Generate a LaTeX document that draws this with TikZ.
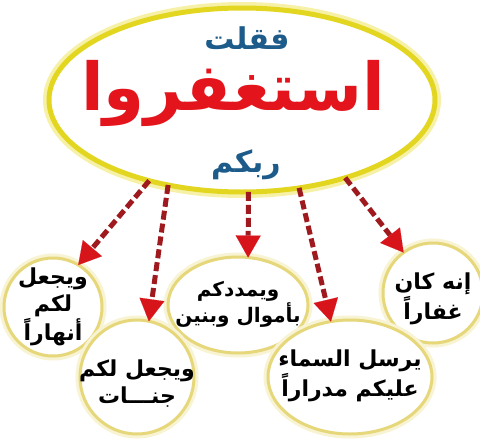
\documentclass[tikz,border=0pt]{standalone}
\usepackage{fontspec}
\usetikzlibrary{shapes.geometric,arrows.meta}
\TeXXeTstate=1
\newfontfamily\arabicfont[Script=Arabic]{DejaVu Sans}
\definecolor{rimyellow}{HTML}{E3D621}
\definecolor{rimglow}{HTML}{F7F1A8}
\definecolor{circrim}{HTML}{E6D77A}
\definecolor{circglow}{HTML}{F8F3D2}
\definecolor{shaftred}{HTML}{9E1A1E}
\definecolor{headred}{HTML}{D8141B}
\definecolor{titleblue}{HTML}{1D5C8A}
\definecolor{titlered}{HTML}{E3141B}
\begin{document}
\begin{tikzpicture}[x=1pt,y=-1pt,
  mainell/.style={ellipse, minimum width=386pt, minimum height=184pt, inner sep=0pt, outer sep=0pt,
    fill=white, draw=rimyellow, line width=5pt, preaction={draw=rimglow, line width=12pt}},
  bubble/.style={circle, inner sep=0pt, outer sep=0pt, fill=white, draw=circrim, line width=3pt,
    preaction={draw=circglow, line width=9pt}},
  ebubble/.style={bubble, ellipse},
  btext/.style={align=center, inner sep=0pt, text=black,
    font=\arabicfont\bfseries\fontsize{22}{27}\selectfont},
  arr/.style={draw=shaftred, line width=5pt, dash pattern=on 9pt off 4pt,
    -{Triangle[length=22pt, width=25pt, line width=0.1pt, color=headred, fill=headred]}}
]
\useasboundingbox[fill=white] (0,0) rectangle (480,445);
\node[mainell] (main) at (242,100) {};
\node[font=\arabicfont\bfseries\fontsize{30}{30}\selectfont, text=titleblue] (t1) at (247,38) {\beginR فقلت\endR};
\node[font=\arabicfont\bfseries\fontsize{66}{66}\selectfont, text=titlered] (t2) at (233,93) {\beginR استغفروا\endR};
\node[font=\arabicfont\bfseries\fontsize{30}{30}\selectfont, text=titleblue] (t3) at (246,165) {\beginR ربكم\endR};

\node[ebubble, minimum width=140pt, minimum height=96pt] (c3) at (238,305) {};
\node[bubble, minimum size=98pt] (c1) at (53,307) {};
\node[bubble, minimum size=100pt] (c5) at (433,293) {};
\node[bubble, minimum size=114pt] (c2) at (137,377) {};
\node[ebubble, minimum width=164pt, minimum height=114pt] (c4) at (350,377) {};

\node[btext, font=\arabicfont\bfseries\fontsize{20}{26}\selectfont] (l3) at (238,304) {\beginR ويمددكم\endR\\\beginR بأموال وبنين\endR};
\node[btext] (l1) at (53,307) {\beginR ويجعل\endR\\\beginR لكم\endR\\\beginR أنهاراً\endR};
\node[btext] (l5) at (433,299) {\beginR إنه كان\endR\\\beginR غفاراً\endR};
\node[btext] (l2) at (137,384) {\beginR ويجعل لكم\endR\\\beginR جنـــات\endR};
\node[btext] (l4) at (350,376) {\beginR يرسل السماء\endR\\\beginR عليكم مدراراً\endR};

\draw[arr] (main.221) -- (c1.59);
\draw[arr] (main.229) -- (c2.78);
\draw[arr] (main.274) -- (c3.78);
\draw[arr] (main.303) -- (c4.109);
\draw[arr] (main.323) -- (c5.126);
\end{tikzpicture}
\end{document}
